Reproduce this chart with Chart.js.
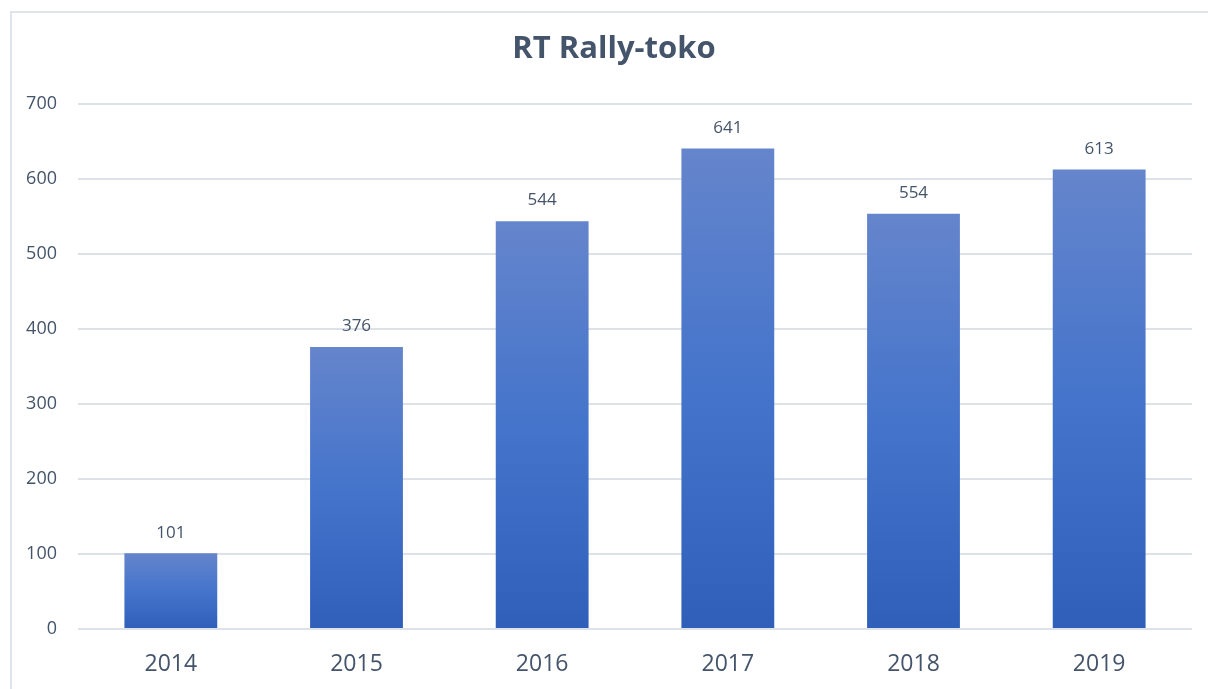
<!DOCTYPE html>
<html>
<head>
<meta charset="utf-8">
<script src="https://cdn.jsdelivr.net/npm/chart.js@4"></script>
<style>
  html, body { margin: 0; padding: 0; background: #fff; }
  #wrap { position: relative; width: 1208px; height: 689px; overflow: hidden; }
  #frame { position: absolute; left: 10px; top: 11px; width: 1240px; height: 720px;
           border: 2px solid #dfe3ea; box-sizing: border-box; }
  #Chart { position: absolute; left: 0; top: 0; }
</style>
</head>
<body>
<div id="wrap">
  <div id="frame"></div>
  <canvas id="Chart" width="1208" height="689"></canvas>
</div>
<script>
let years = ['2014', '2015', '2016', '2017', '2018', '2019'];
let counts = [101, 376, 544, 641, 554, 613];
let chartTitle = 'RT Rally-toko';

const fontName = '"Open Sans", Lato, sans-serif';

// gradient per bar, light at top, darker at the base
barFill = function(context) {
    let chart = context.chart;
    if (!chart.chartArea) {
        return '#4472c4';
    }
    let y = chart.scales.y;
    let top = y.getPixelForValue(counts[context.dataIndex]);
    let base = y.getPixelForValue(0);
    let g = chart.ctx.createLinearGradient(0, top, 0, base);
    g.addColorStop(0, '#6585cc');
    g.addColorStop(0.5, '#4474cb');
    g.addColorStop(1, '#2f5fb9');
    return g;
}

const valueLabels = {
    id: 'valueLabels',
    afterDatasetsDraw(chart) {
        let ctx = chart.ctx;
        let meta = chart.getDatasetMeta(0);
        ctx.save();
        ctx.font = '17px ' + fontName;
        ctx.fillStyle = '#44546a';
        ctx.textAlign = 'center';
        ctx.textBaseline = 'bottom';
        meta.data.forEach(function(bar, i) {
            ctx.fillText(counts[i], bar.x, bar.y - 12);
        });
        ctx.restore();
    }
};

// centre the title on the framed box rather than the canvas
const titleShift = {
    id: 'titleShift',
    afterLayout(chart) {
        if (chart.titleBlock) {
            chart.titleBlock.left = 20;
            chart.titleBlock.right = 1208;
        }
    }
};

let ctx_chart = document.getElementById('Chart');

let bar_chart = new Chart(ctx_chart, {
    type: 'bar',
    data: {
        labels: years,
        datasets: [{
            label: 'RT Rally-toko',
            data: counts,
            backgroundColor: barFill,
            borderWidth: 0,
            categoryPercentage: 1,
            barPercentage: 0.5
        }]
    },
    options: {
        responsive: false,
        animation: false,
        layout: {
            padding: { left: 0, right: 16, top: 0, bottom: 0 }
        },
        scales: {
            x: {
                grid: { display: false, drawTicks: false },
                border: { display: false },
                ticks: {
                    color: '#44546a',
                    font: { family: fontName, size: 23 },
                    padding: 22
                },
                afterFit: function(scale) { scale.height = 60; }
            },
            y: {
                min: 0,
                max: 700,
                grid: { color: '#dde1e8', lineWidth: 2, drawTicks: false },
                border: { display: false },
                ticks: {
                    stepSize: 100,
                    color: '#44546a',
                    font: { family: fontName, size: 18 },
                    padding: 21
                },
                afterFit: function(scale) { scale.width = 78; }
            }
        },
        plugins: {
            title: {
                display: true,
                text: chartTitle,
                color: '#44546a',
                font: { family: fontName, size: 31, weight: 'bold' },
                padding: { top: 31, bottom: 36 }
            },
            legend: { display: false },
            tooltip: { enabled: false }
        }
    },
    plugins: [valueLabels, titleShift]
});
</script>
</body>
</html>
